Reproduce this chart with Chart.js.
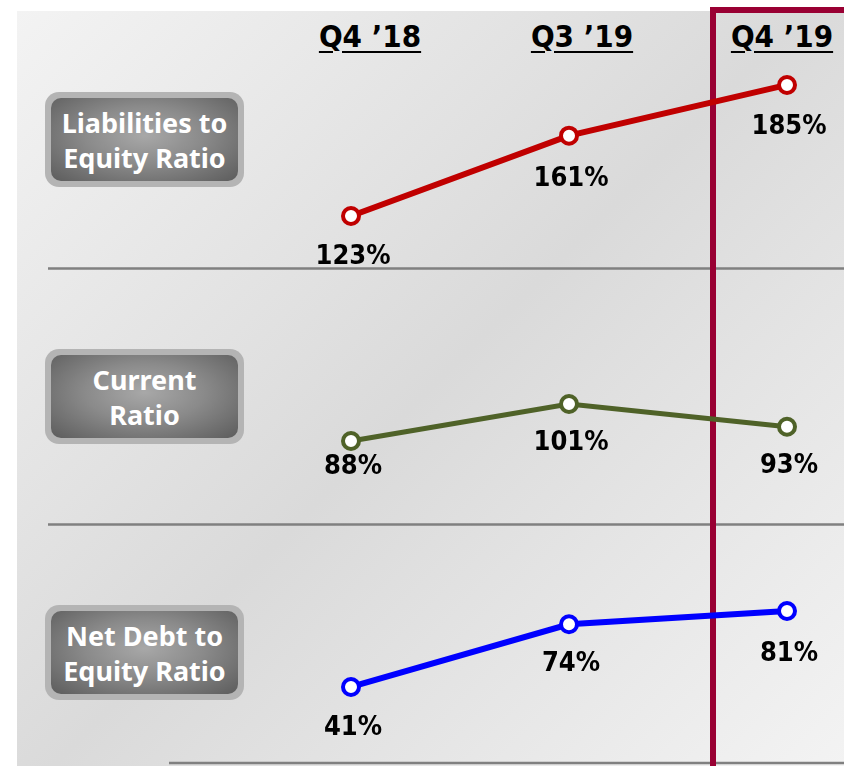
<!DOCTYPE html>
<html>
<head>
<meta charset="utf-8">
<script src="https://cdn.jsdelivr.net/npm/chart.js@4"></script>
<style>
  html, body { margin:0; padding:0; background:#fff; }
  #wrap { position:relative; width:844px; height:766px; overflow:hidden; }
  #panel { position:absolute; left:17px; top:11px; width:827px; height:755px;
    background: linear-gradient(135deg, #f3f3f3 0%, #dadada 50%, #f3f3f3 100%); }
  .hdr { position:absolute; top:18px; width:140px; margin-left:-70px; text-align:center;
    font-family:"DejaVu Sans Condensed","DejaVu Sans",sans-serif; font-stretch:condensed; font-weight:bold;
    font-size:31px; color:#000; text-decoration:underline; text-decoration-thickness:2px; text-underline-offset:4px; }
  .badge { position:absolute; left:45px; width:199px; height:95px; border-radius:14px; background:#b4b4b4; }
  .badge .in { position:absolute; left:6px; top:6px; right:6px; bottom:6px; border-radius:10px;
    background: radial-gradient(ellipse at 50% 45%, #a8a8a8 0%, #8a8a8a 45%, #5c5c5c 100%);
    display:flex; align-items:center; justify-content:center; text-align:center;
    color:#fff; font-family:"Noto Sans",sans-serif; font-weight:bold; font-size:27px; line-height:35px; }
  canvas { position:absolute; left:0; top:0; }
</style>
</head>
<body>
<div id="wrap">
  <div id="panel"></div>
  <div class="hdr" style="left:370px">Q4 ’18</div>
  <div class="hdr" style="left:582px">Q3 ’19</div>
  <div class="hdr" style="left:782px">Q4 ’19</div>
  <div class="badge" style="top:92px"><div class="in">Liabilities to<br>Equity Ratio</div></div>
  <div class="badge" style="top:349px"><div class="in">Current<br>Ratio</div></div>
  <div class="badge" style="top:605px"><div class="in">Net Debt to<br>Equity Ratio</div></div>
  <canvas id="c" width="844" height="766"></canvas>
</div>
<script>
const categories = ["Q4 '18", "Q3 '19", "Q4 '19"];
const liabilitiesToEquity = [123, 161, 185];
const currentRatio = [88, 101, 93];
const netDebtToEquity = [41, 74, 81];

const labelOffsets = [[41, 43, 42], [26, 39, 39], [41, 40, 43]];

const overlay = {
  id: 'overlay',
  beforeDatasetsDraw(chart) {
    const ctx = chart.ctx;
    ctx.save();
    ctx.strokeStyle = '#808080';
    ctx.lineWidth = 2.5;
    ctx.beginPath();
    ctx.moveTo(48, 268.5); ctx.lineTo(844, 268.5);
    ctx.moveTo(48, 524.5); ctx.lineTo(844, 524.5);
    ctx.moveTo(169, 763); ctx.lineTo(844, 763);
    ctx.stroke();
    ctx.strokeStyle = '#990033';
    ctx.lineWidth = 6;
    ctx.beginPath();
    ctx.moveTo(713, 770); ctx.lineTo(713, 10); ctx.lineTo(850, 10);
    ctx.stroke();
    ctx.restore();
  },
  afterDatasetsDraw(chart) {
    const ctx = chart.ctx;
    ctx.save();
    ctx.fillStyle = '#000';
    ctx.font = 'bold 27px "DejaVu Sans Condensed", "DejaVu Sans", sans-serif';
    ctx.textAlign = 'center';
    ctx.textBaseline = 'middle';
    chart.data.datasets.forEach((ds, di) => {
      const meta = chart.getDatasetMeta(di);
      meta.data.forEach((pt, i) => {
        ctx.fillText(ds.data[i] + '%', pt.x + 2, pt.y + labelOffsets[di][i]);
      });
    });
    ctx.restore();
  }
};

new Chart(document.getElementById('c'), {
  type: 'line',
  data: {
    labels: categories,
    datasets: [
      { label: 'Liabilities to Equity Ratio', data: liabilitiesToEquity, yAxisID: 'y1',
        borderColor: '#C00000', borderWidth: 6, pointRadius: 8, pointBorderWidth: 4,
        pointBackgroundColor: '#fff', pointBorderColor: '#C00000', clip: false },
      { label: 'Current Ratio', data: currentRatio, yAxisID: 'y2',
        borderColor: '#4F6228', borderWidth: 5, pointRadius: 8, pointBorderWidth: 4,
        pointBackgroundColor: '#fff', pointBorderColor: '#4F6228', clip: false },
      { label: 'Net Debt to Equity Ratio', data: netDebtToEquity, yAxisID: 'y3',
        borderColor: '#0000FF', borderWidth: 6, pointRadius: 8, pointBorderWidth: 4,
        pointBackgroundColor: '#fff', pointBorderColor: '#0000FF', clip: false }
    ]
  },
  options: {
    responsive: false,
    animation: false,
    layout: { autoPadding: false, padding: { left: 351, right: 57, top: 0, bottom: 0 } },
    plugins: { legend: { display: false }, tooltip: { enabled: false } },
    scales: {
      x: { type: 'category', display: false, offset: false },
      y1: { type: 'linear', display: false, min: -137.3, max: 225.2 },
      y2: { type: 'linear', display: false, min: -26.2, max: 242.95 },
      y3: { type: 'linear', display: false, min: -0.6, max: 402.6 }
    }
  },
  plugins: [overlay]
});
</script>
</body>
</html>
